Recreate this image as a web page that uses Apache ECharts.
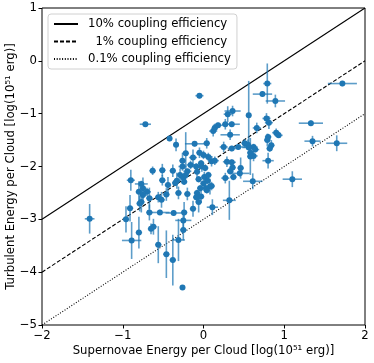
<!DOCTYPE html>
<html>
<head>
<meta charset="utf-8">
<script src="https://cdn.jsdelivr.net/npm/echarts@6/dist/echarts.min.js"></script>
<style>
html,body{margin:0;padding:0;background:#fff;}
#chart{width:374px;height:363px;}
</style>
</head>
<body>
<div id="chart"></div>
<script>
// supernova energy (x), turbulent energy (y), and their errors, log(1e51 erg)
var sxVal = [-0.05,0.79,0.73,0.89,1.72,0.56,0.36,0.30,0.78,0.81,
	1.33,1.35,1.65,1.10,-0.72,-0.42,-0.34,-0.11,0.04,0.12,
	0.14,0.18,0.27,0.35,0.33,0.66,0.90,0.93,0.80,0.79,
	0.62,0.56,0.64,0.84,0.43,0.25,0.35,0.51,0.58,0.80,
	-0.05,0.00,-0.22,-0.13,-0.26,0.06,0.10,0.14,0.29,0.35,
	0.36,0.46,0.45,0.62,0.27,0.61,-0.02,-0.16,-0.26,-0.08,
	-0.20,-0.29,-0.25,-0.33,-0.38,-0.51,-0.63,-0.90,-0.51,-0.22,
	-0.06,0.01,0.05,0.00,0.06,0.08,0.04,-0.35,-0.44,-0.77,
	-0.75,-0.80,-0.70,-0.75,-0.67,-0.77,-0.56,-0.46,-0.31,-0.20,
	-0.08,-0.03,0.03,0.10,0.32,0.11,-0.06,-0.13,-0.91,-0.96,
	-0.67,-0.54,-0.37,-0.24,-0.25,-1.41,-0.62,-0.65,-0.80,-0.89,
	-0.56,-0.46,-0.38,-0.31,-0.26,-0.25,-0.79,-0.52,0.37,0.33,
	0.55,0.58,-0.09,-0.03,-0.24,0.02,-0.04,-0.09,0.82];
var syVal = [-0.66,-0.43,-0.63,-0.76,-0.43,-1.03,-0.95,-1.01,-1.09,-1.17,
	-1.18,-1.52,-1.56,-2.24,-1.20,-1.47,-1.59,-1.57,-1.56,-1.33,
	-1.27,-1.22,-1.20,-1.20,-1.40,-1.27,-1.36,-1.41,-1.44,-1.50,
	-1.63,-1.64,-1.68,-1.60,-1.63,-1.63,-1.66,-1.56,-1.81,-1.89,
	-1.74,-1.78,-1.75,-1.83,-1.89,-1.82,-1.90,-1.89,-1.91,-1.92,
	-2.02,-2.03,-2.13,-1.80,-2.22,-2.28,-2.00,-1.97,-2.00,-2.10,
	-2.09,-2.16,-2.21,-2.27,-2.08,-2.07,-2.08,-2.26,-2.26,-2.16,
	-2.24,-2.20,-2.27,-2.32,-2.16,-2.38,-2.45,-2.31,-2.35,-2.33,
	-2.41,-2.48,-2.48,-2.54,-2.60,-2.67,-2.58,-2.53,-2.50,-2.52,
	-2.50,-2.57,-2.41,-2.37,-2.64,-2.77,-2.67,-2.80,-2.79,-3.00,
	-2.87,-2.87,-2.88,-2.87,-3.02,-2.99,-3.14,-3.18,-3.25,-3.40,
	-3.48,-3.66,-3.77,-3.39,-4.29,-3.20,-2.70,-2.63,-2.20,-2.09,
	-1.59,-1.74,-2.00,-1.94,-2.29,-2.03,-2.41,-2.58,-1.66];
var sxErr = [.05,.05,.12,.12,.18,.03,.10,.05,.05,.05,
	.15,.10,.13,.12,.07,.03,.03,.12,.04,.05,
	.04,.06,.04,.10,.12,.05,.05,.05,.04,.04,
	.05,.08,.05,.04,.10,.05,.05,.04,.04,.07,
	.04,.05,.04,.05,.04,.05,.04,.05,.05,.05,
	.04,.04,.12,.05,.05,.12,.04,.05,.05,.04,
	.05,.04,.05,.04,.04,.04,.04,.05,.04,.04,
	.04,.04,.04,.04,.04,.04,.04,.04,.04,.08,
	.04,.04,.05,.04,.04,.04,.04,.04,.04,.04,
	.04,.04,.04,.04,.08,.07,.04,.04,.04,.04,
	.04,.12,.10,.04,.10,.06,.04,.04,.04,.12,
	.04,.04,.04,.08,0,.04,.04,.04,.04,.04,
	.04,.04,.04,.04,.04,.04,.04,.04,.04];
var syErr = [.05,.38,.05,.12,.05,.65,.10,.15,.10,.12,
	.05,.10,.15,.15,.03,.05,.12,.05,.10,.10,
	.08,.05,.10,.05,.10,.10,.08,.05,.06,.12,
	.06,.05,.05,.10,.05,.10,.05,.08,.35,.15,
	.10,.08,.40,.15,.15,.08,.10,.08,.10,.05,
	.10,.20,.06,.10,.10,.15,.10,.08,.08,.12,
	.05,.12,.06,.15,.12,.12,.08,.20,.10,.06,
	.06,.10,.06,.06,.06,.15,.06,.06,.15,.06,
	.20,.20,.08,.15,.20,.20,.10,.12,.12,.12,
	.06,.12,.06,.08,.37,.15,.20,.15,.25,.25,
	.15,.05,.05,.20,.20,.28,.15,.10,.30,.35,
	.35,.45,.48,.40,0,.20,.15,.15,.06,.06,
	.10,.06,.06,.06,.06,.06,.06,.06,.06];

// coupling efficiency lines, y at x = -2 and x = 2
var lineX = [-2, 2];
var line10 = [-3, 1];
var line1 = [-4, 0];
var line01 = [-5, -1];
var lineNames = ['10% coupling efficiency', '\u20071% coupling efficiency', '0.1% coupling efficiency'];

var xTicks = [-2, -1, 0, 1, 2];
var yTicks = [-5, -4, -3, -2, -1, 0, 1];

var font = 'DejaVu Sans';
var blue = '#1f77b4';

var pts = [], bars = [];
for (var i = 0; i < sxVal.length; i++) {
	pts.push([sxVal[i], syVal[i]]);
	bars.push([sxVal[i], syVal[i], sxErr[i], syErr[i]]);
}

function pair(ys) {
	return [[lineX[0], ys[0]], [lineX[1], ys[1]]];
}

function minus(v) {
	return String(v).replace('-', '\u2212');
}

var chart = echarts.init(document.getElementById('chart'));
chart.setOption({
	animation: false,
	textStyle: {fontFamily: font},
	grid: {left: 42, right: 9, top: 8, bottom: 38, show: true, borderColor: '#000', borderWidth: 1,
		containLabel: false, outerBoundsMode: 'none'},
	legend: {
		orient: 'vertical',
		left: 48, top: 14,
		padding: [4, 6, 4, 5],
		itemWidth: 24, itemHeight: 12, itemGap: 5.5,
		backgroundColor: '#fff', borderColor: '#d0d0d0', borderWidth: 1, borderRadius: 3,
		itemStyle: {opacity: 0},
		textStyle: {fontFamily: font, fontSize: 11.7, color: '#000', padding: [0, 0, 0, 5]},
		data: lineNames
	},
	xAxis: {
		type: 'value', min: xTicks[0], max: xTicks[xTicks.length - 1], interval: 1,
		name: 'Supernovae Energy per Cloud [log(10\u2075\u00b9 erg)]',
		nameLocation: 'middle', nameGap: 20, nameMoveOverlap: false,
		nameTextStyle: {fontFamily: font, fontSize: 11.7, color: '#000'},
		axisLine: {show: false, onZero: false},
		axisTick: {show: true, length: 3.5, lineStyle: {color: '#000'}},
		axisLabel: {fontFamily: font, fontSize: 11.7, color: '#000', margin: 5, formatter: minus},
		splitLine: {show: false}
	},
	yAxis: {
		type: 'value', min: yTicks[0], max: yTicks[yTicks.length - 1], interval: 1,
		name: 'Turbulent Energy per Cloud [log(10\u2075\u00b9 erg)]',
		nameLocation: 'middle', nameGap: 25, nameMoveOverlap: false,
		nameTextStyle: {fontFamily: font, fontSize: 11.7, color: '#000'},
		axisLine: {show: false, onZero: false},
		axisTick: {show: true, length: 3.5, lineStyle: {color: '#000'}},
		axisLabel: {fontFamily: font, fontSize: 11.7, color: '#000', margin: 5, formatter: minus},
		splitLine: {show: false}
	},
	series: [
		{name: lineNames[0], type: 'line', data: pair(line10), symbol: 'none', z: 1,
			lineStyle: {color: '#000', width: 1.1, type: 'solid'}, itemStyle: {color: '#000'}},
		{name: lineNames[1], type: 'line', data: pair(line1), symbol: 'none', z: 1,
			lineStyle: {color: '#000', width: 1.1, type: [4, 2]}, itemStyle: {color: '#000'}},
		{name: lineNames[2], type: 'line', data: pair(line01), symbol: 'none', z: 1,
			lineStyle: {color: '#000', width: 1.1, type: [1, 1.7]}, itemStyle: {color: '#000'}},
		{
			type: 'custom', z: 2,
			data: bars,
			renderItem: function (params, api) {
				var x = api.value(0), y = api.value(1), ex = api.value(2), ey = api.value(3);
				var l = api.coord([x - ex, y]), r = api.coord([x + ex, y]);
				var t = api.coord([x, y + ey]), b = api.coord([x, y - ey]);
				var st = {stroke: 'rgba(31,119,180,0.72)', lineWidth: 1.6};
				return {type: 'group', children: [
					{type: 'line', shape: {x1: l[0], y1: l[1], x2: r[0], y2: r[1]}, style: st},
					{type: 'line', shape: {x1: t[0], y1: t[1], x2: b[0], y2: b[1]}, style: st}
				]};
			}
		},
		{type: 'scatter', data: pts, symbolSize: 6, z: 3, itemStyle: {color: blue, opacity: 1}}
	]
});
</script>
</body>
</html>
